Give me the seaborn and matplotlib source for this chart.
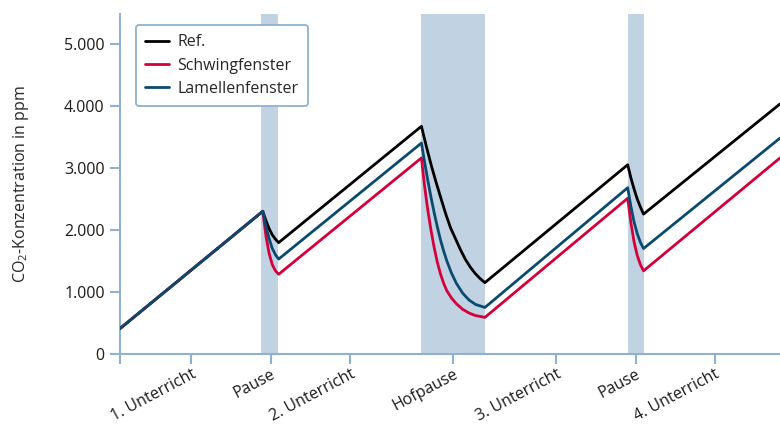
import pandas as pd
import matplotlib
matplotlib.use("Agg")
import matplotlib.pyplot as plt
import seaborn as sns

# Zeitachse in Minuten, CO2 in ppm
ref_min = [0, 45, 46, 47, 48, 49, 50,
           95, 96.5, 98.1, 99.6, 101.2, 102.7, 104.2, 105.8, 107.3, 108.8, 110.4, 111.9, 113.5, 115,
           160, 161, 162, 163, 164, 165, 208]
ref_ppm = [410, 2300, 2150, 2020, 1920, 1850, 1795,
           3670, 3355, 3040, 2770, 2500, 2250, 2030, 1850, 1680, 1530, 1400, 1300, 1215, 1150,
           3050, 2840, 2660, 2500, 2370, 2255, 4030]

schwing_min = [0, 45, 46, 47, 48, 49, 50,
               95, 96, 97, 98, 99, 100, 101, 102, 103, 104.5, 106, 108, 110, 112, 115,
               160, 161, 162, 163, 164, 165, 208]
schwing_ppm = [410, 2300, 1900, 1620, 1440, 1340, 1285,
               3160, 2700, 2320, 2000, 1720, 1480, 1290, 1140, 1020, 900, 810, 720, 660, 620, 590,
               2510, 2120, 1810, 1590, 1440, 1340, 3160]

lamellen_min = [0, 45, 46, 47, 48, 49, 50,
                95, 96, 97, 98, 99, 100, 101, 102, 103, 104.5, 106, 108, 110, 112, 115,
                160, 161, 162, 163, 164, 165, 208]
lamellen_ppm = [410, 2300, 2060, 1860, 1700, 1600, 1530,
                3400, 3090, 2800, 2530, 2280, 2050, 1840, 1660, 1500, 1300, 1140, 980, 870, 800, 750,
                2680, 2380, 2130, 1940, 1800, 1700, 3480]

pausen = [(44.5, 49.7), (95, 115), (160, 165)]

tick_pos = [0, 22.5, 47.5, 72.5, 105, 137.5, 162.5, 187.5]
tick_labels = ["", "1. Unterricht", "Pause", "2. Unterricht", "Hofpause",
               "3. Unterricht", "Pause", "4. Unterricht"]

ytick_pos = [0, 1000, 2000, 3000, 4000, 5000]
ytick_labels = ["0", "1.000", "2.000", "3.000", "4.000", "5.000"]

serien = ["Ref.", "Schwingfenster", "Lamellenfenster"]
farben = ["#000000", "#d4003c", "#0b4a6f"]

df = pd.concat([
    pd.DataFrame({"min": ref_min, "ppm": ref_ppm, "serie": "Ref."}),
    pd.DataFrame({"min": schwing_min, "ppm": schwing_ppm, "serie": "Schwingfenster"}),
    pd.DataFrame({"min": lamellen_min, "ppm": lamellen_ppm, "serie": "Lamellenfenster"}),
])

sns.set_style("white")
plt.rcParams["font.family"] = ["Open Sans", "DejaVu Sans"]
plt.rcParams["mathtext.fontset"] = "custom"
plt.rcParams["mathtext.rm"] = "Open Sans"

achse = "#8fb1cf"
band = "#c1d2e3"
fs = 11.5

fig = plt.figure(figsize=(7.8, 4.3), dpi=100)
ax = fig.add_axes([120 / 780, 1 - 354 / 430, 660 / 780, 340 / 430])

for a, b in pausen:
    ax.axvspan(a, b, color=band, lw=0, zorder=0)

sns.lineplot(data=df, x="min", y="ppm", hue="serie", hue_order=serien,
             palette=farben, sort=False, estimator=None, lw=2.0, ax=ax, zorder=3)

ax.set_xlim(0, 208)
ax.set_ylim(0, 5480)
ax.set_xticks(tick_pos)
ax.set_xticklabels(tick_labels, rotation=28, ha="right", rotation_mode="anchor",
                   fontsize=fs)
ax.set_yticks(ytick_pos)
ax.set_yticklabels(ytick_labels, fontsize=fs)
ax.set_xlabel("")
ax.set_ylabel("CO$_\\mathregular{2}$-Konzentration in ppm", fontsize=fs, labelpad=24)

for s in ["top", "right"]:
    ax.spines[s].set_visible(False)
for s in ["left", "bottom"]:
    ax.spines[s].set_color(achse)
    ax.spines[s].set_linewidth(1.5)
ax.tick_params(axis="both", bottom=True, left=True, colors=achse, length=7, width=1.5,
               labelcolor="#1a1a1a")
ax.tick_params(axis="x", pad=2)
ax.tick_params(axis="y", pad=4)

leg = ax.legend(loc="upper left", bbox_to_anchor=(0.024, 0.968), borderaxespad=0,
                fontsize=fs, frameon=True, fancybox=True, handlelength=1.5,
                handletextpad=0.5, labelspacing=0.45, borderpad=0.6)
leg.get_frame().set_edgecolor(achse)
leg.get_frame().set_linewidth(1.3)
leg.get_frame().set_alpha(1)
for line in leg.get_lines():
    line.set_linewidth(2)

fig.savefig("out.png", dpi=100)
